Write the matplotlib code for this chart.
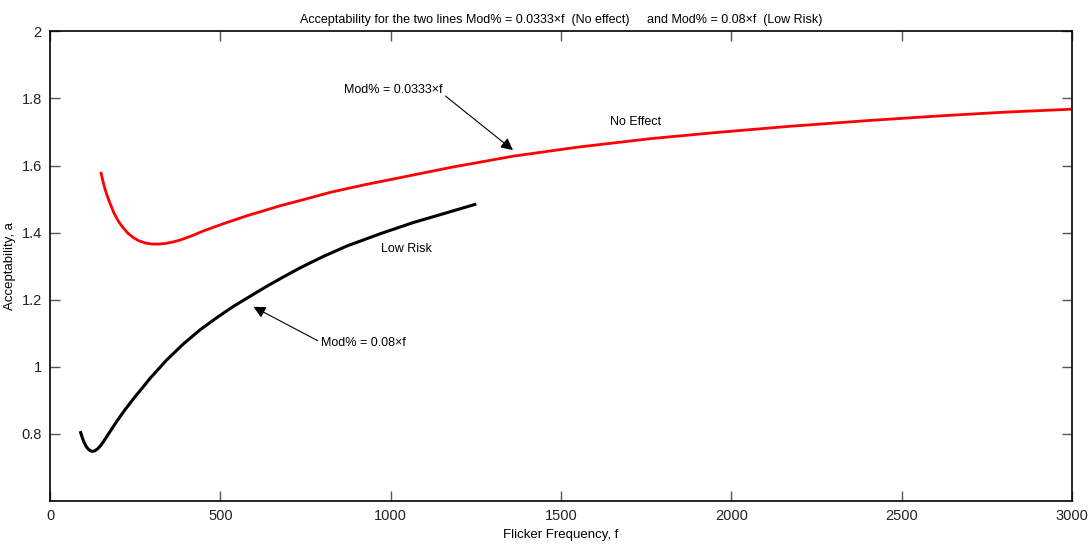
import matplotlib
matplotlib.use("Agg")
import matplotlib.pyplot as plt

# Krzywa "No Effect" (Mod% = 0.0333*f)
f_red = [150, 155, 160, 167, 175, 187, 200, 215, 230, 245, 260, 280, 299,
         320, 340, 360, 382, 415, 450, 510, 577, 675, 750, 822, 920,
         1018, 1179, 1360, 1550, 1761, 1950, 2172, 2400, 2612, 2800, 3000]
a_red = [1.577, 1.555, 1.535, 1.512, 1.49, 1.46, 1.435, 1.414, 1.397, 1.385,
         1.376, 1.369, 1.366, 1.366, 1.368, 1.372, 1.378, 1.39, 1.405, 1.427,
         1.45, 1.48, 1.50, 1.52, 1.542, 1.562, 1.595, 1.628, 1.655, 1.68,
         1.698, 1.717, 1.734, 1.748, 1.759, 1.768]

# Krzywa "Low Risk" (Mod% = 0.08*f)
f_black = [90, 95, 100, 106, 112, 118, 124, 132, 140, 150, 160, 178, 196,
           220, 245, 270, 293, 318, 342, 390, 440, 490, 538, 590, 636, 685,
           734, 800, 871, 970, 1066, 1160, 1247]
a_black = [0.804, 0.788, 0.775, 0.763, 0.755, 0.750, 0.748, 0.750, 0.756,
           0.767, 0.782, 0.810, 0.838, 0.872, 0.905, 0.936, 0.965, 0.993,
           1.02, 1.067, 1.11, 1.147, 1.18, 1.212, 1.24, 1.268, 1.295, 1.328,
           1.36, 1.397, 1.43, 1.458, 1.484]

x_ticks = [0, 500, 1000, 1500, 2000, 2500, 3000]
y_ticks = [0.8, 1, 1.2, 1.4, 1.6, 1.8, 2]

plt.rcParams['font.family'] = ['Liberation Sans', 'DejaVu Sans']

fig = plt.figure(figsize=(10.9, 5.5), dpi=100)
ax = fig.add_axes([0.0459, 0.089, 0.9376, 0.854])

ax.plot(f_red, a_red, color='red', linewidth=2.0, solid_joinstyle='round')
ax.plot(f_black, a_black, color='black', linewidth=2.2, solid_joinstyle='round')

ax.set_xlim(0, 3000)
ax.set_ylim(0.6, 2)
ax.set_xticks(x_ticks)
ax.set_yticks(y_ticks)
ax.set_yticklabels(['0.8', '1', '1.2', '1.4', '1.6', '1.8', '2'])
ax.tick_params(direction='in', length=7, width=1, color='#555555',
               top=True, right=True, labelsize=10.5, labelcolor='#222222', pad=6)
for s in ax.spines.values():
    s.set_linewidth(1.2)

ax.set_xlabel('Flicker Frequency, f', fontsize=9.5, labelpad=4)
ax.set_ylabel('Acceptability, a', fontsize=9.5, labelpad=4)
ax.set_title('Acceptability for the two lines Mod% = 0.0333\u00d7f  (No effect)     and Mod% = 0.08\u00d7f  (Low Risk)',
             fontsize=9, pad=6)

# Adnotacje
ax.annotate('Mod% = 0.0333\u00d7f', xy=(1359, 1.646), xytext=(863, 1.825),
            fontsize=9, va='center', ha='left',
            arrowprops=dict(arrowstyle='-|>', color='black', lw=0.8,
                            mutation_scale=18, shrinkA=0, shrinkB=0,
                            relpos=(1.03, 0.0)))
ax.text(1644, 1.73, 'No Effect', fontsize=9, va='center', ha='left')
ax.text(972, 1.35, 'Low Risk', fontsize=9, va='center', ha='left')
ax.annotate('Mod% = 0.08\u00d7f', xy=(597, 1.179), xytext=(794, 1.07),
            fontsize=9, va='center', ha='left',
            arrowprops=dict(arrowstyle='-|>', color='black', lw=0.8,
                            mutation_scale=18, shrinkA=0, shrinkB=0,
                            relpos=(0.0, 0.6)))

fig.savefig('out.png', dpi=100)
